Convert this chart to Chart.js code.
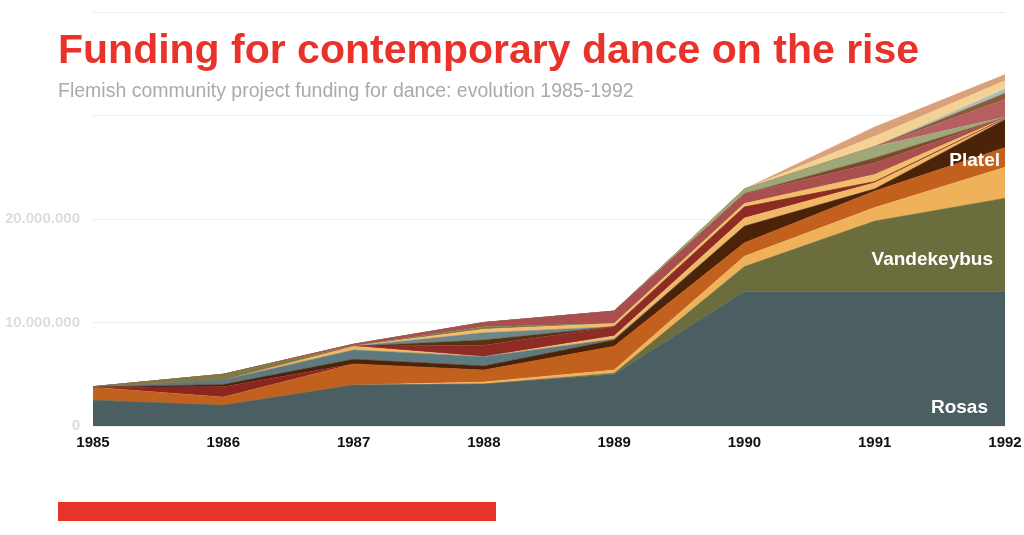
<!DOCTYPE html>
<html>
<head>
<meta charset="utf-8">
<script src="https://cdn.jsdelivr.net/npm/chart.js@4"></script>
<style>
  html, body { margin: 0; padding: 0; background: #fff; }
  body { width: 1024px; height: 535px; position: relative; overflow: hidden; font-family: "Liberation Sans", Arial, sans-serif; }
  #wrap { position: absolute; left: 0; top: 0; width: 1024px; height: 535px; }
  h1 { position: absolute; left: 58px; top: 29px; margin: 0; font-size: 41px; line-height: 41px; font-weight: bold; color: #e8322a; white-space: nowrap; }
  .sub { position: absolute; left: 58px; top: 79px; margin: 0; font-size: 19.5px; line-height: 22px; color: #aaaaaa; white-space: nowrap; }
  .bar { position: absolute; left: 58px; top: 502px; width: 438px; height: 19px; background: #e8332a; }
</style>
</head>
<body>
<div id="wrap"><canvas id="danceChart"></canvas></div>
<h1>Funding for contemporary dance on the rise</h1>
<p class="sub">Flemish community project funding for dance: evolution 1985-1992</p>
<div class="bar"></div>
<script>
// years on the x axis
const years = ["1985", "1986", "1987", "1988", "1989", "1990", "1991", "1992"];

// funding per company, in millions, stacked from the bottom up
const rosas       = [2.5, 2.0, 3.95, 4.05, 5.0, 13.0, 13.0, 13.0];
const vandekeybus = [0, 0, 0, 0, 0.1, 2.4, 6.8, 9.0];
const lightOrA    = [0, 0, 0, 0.2, 0.3, 1.0, 1.3, 3.0];
const platel      = [1.25, 0.8, 2.05, 1.15, 2.3, 1.3, 1.6, 1.9];
const darkRedA    = [0, 1.0, 0, 0, 0, 0, 0, 0];
const darkBrown   = [0, 0.2, 0.45, 0.4, 0.6, 1.6, 0.2, 2.7];
const slateBlue   = [0, 0.45, 0.9, 0.9, 0.1, 0, 0, 0];
const lightOrB    = [0, 0, 0.35, 0, 0.3, 0.8, 0.6, 0.05];
const darkRedB    = [0, 0, 0, 1.1, 0.9, 1.05, 0.1, 0.05];
const darkBrownB  = [0, 0, 0, 0.5, 0, 0, 0, 0];
const slateBlueB  = [0, 0, 0, 0.7, 0, 0, 0, 0];
const lightOrC    = [0, 0, 0, 0.35, 0.3, 0.35, 0.7, 0.05];
const khaki       = [0.05, 0.55, 0.05, 0.25, 0, 0, 0, 0];
const rose        = [0, 0, 0.15, 0.4, 1.2, 0.95, 1.1, 0.05];
const brownA      = [0, 0, 0, 0, 0, 0, 0.5, 0];
const sage        = [0, 0, 0, 0, 0, 0.45, 1.1, 0.05];
const roseB       = [0, 0, 0, 0, 0, 0, 0, 1.7];
const brownB      = [0, 0, 0, 0, 0, 0, 0, 0.6];
const blueGray    = [0, 0, 0, 0, 0, 0, 0, 0.4];
const lightTan    = [0, 0, 0, 0, 0, 0, 1.0, 0.8];
const tanTop      = [0, 0, 0, 0, 0, 0, 0.9, 0.6];

const yTicks = [0, 10000000, 20000000, 30000000, 40000000];

// labels written on the bands: text, value where it sits (millions), shift from the 1992 edge
const bandLabels = [
    { text: "Rosas", at: 1.8, shift: 17 },
    { text: "Vandekeybus", at: 16.1, shift: 12 },
    { text: "Platel", at: 25.6, shift: 5 }
];

const layers = [
    ["Rosas", rosas, "#4b5e62"],
    ["Vandekeybus", vandekeybus, "#6b6d3c"],
    ["Other 1", lightOrA, "#f0b15b"],
    ["Platel", platel, "#c2611d"],
    ["Other 2", darkRedA, "#8b2520"],
    ["Other 3", darkBrown, "#4a2308"],
    ["Other 4", slateBlue, "#5f7a7e"],
    ["Other 5", lightOrB, "#f2b866"],
    ["Other 6", darkRedB, "#8e2b24"],
    ["Other 7", darkBrownB, "#5a3210"],
    ["Other 8", slateBlueB, "#6f878a"],
    ["Other 9", lightOrC, "#f4bd6a"],
    ["Other 10", khaki, "#7d7b48"],
    ["Other 11", rose, "#a94f4f"],
    ["Other 12", brownA, "#7b4a2a"],
    ["Other 13", sage, "#9fa878"],
    ["Other 14", roseB, "#b5605e"],
    ["Other 15", brownB, "#8a5a3a"],
    ["Other 16", blueGray, "#a9bdb8"],
    ["Other 17", lightTan, "#f3d293"],
    ["Other 18", tanTop, "#d9a07a"]
];

let datasets = layers.map((l, i) => ({
    label: l[0],
    data: l[1].map(v => v * 1000000),
    backgroundColor: l[2],
    borderColor: l[2],
    borderWidth: 0.5,
    pointRadius: 0,
    tension: 0,
    fill: i === 0 ? "origin" : "-1"
}));

function dots(v) {
    return v.toString().replace(/\B(?=(\d{3})+(?!\d))/g, ".");
}

const labelPlugin = {
    id: "bandLabels",
    afterDatasetsDraw(chart) {
        let ctx = chart.ctx;
        let edge = chart.scales.x.getPixelForValue(years.length - 1);
        ctx.save();
        ctx.fillStyle = "#ffffff";
        ctx.font = "bold 19px 'Liberation Sans', Arial, sans-serif";
        ctx.textAlign = "right";
        ctx.textBaseline = "middle";
        bandLabels.forEach(b => {
            ctx.fillText(b.text, edge - b.shift, chart.scales.y.getPixelForValue(b.at * 1000000));
        });
        ctx.restore();
    }
};

let ctx = document.getElementById("danceChart").getContext("2d");
new Chart(ctx, {
    type: "line",
    data: { labels: years, datasets: datasets },
    plugins: [labelPlugin],
    options: {
        responsive: true,
        maintainAspectRatio: false,
        animation: false,
        layout: { padding: { top: 12, right: 19, left: 0, bottom: 79 } },
        plugins: { legend: { display: false }, tooltip: { enabled: false } },
        scales: {
            x: {
                offset: false,
                grid: { display: false },
                border: { display: false },
                ticks: {
                    color: "#111111",
                    padding: 0,
                    maxRotation: 0,
                    font: { family: "'Liberation Sans', Arial, sans-serif", size: 15, weight: "bold" }
                },
                afterFit(scale) { scale.height = 30; }
            },
            y: {
                stacked: true,
                min: 0,
                max: 40000000,
                afterBuildTicks(scale) { scale.ticks = yTicks.map(v => ({ value: v })); },
                grid: { color: "#eeeeee", drawTicks: false },
                border: { display: false },
                ticks: {
                    color: "#dddddd",
                    padding: 13,
                    font: { family: "'Liberation Sans', Arial, sans-serif", size: 15, weight: "bold" },
                    callback: v => v > 20000000 ? "" : dots(v)
                },
                afterFit(scale) {
                    scale.width = 93;
                    scale.paddingTop = 0;
                    scale.paddingBottom = 0;
                }
            }
        }
    }
});
</script>
</body>
</html>
